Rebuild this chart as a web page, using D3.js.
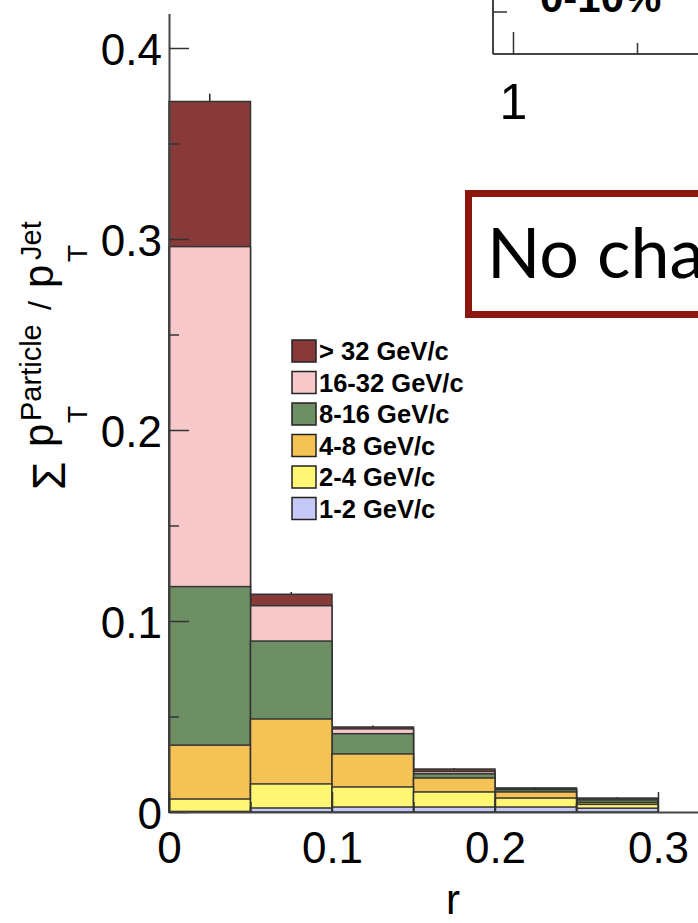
<!DOCTYPE html>
<html lang="en">
<head>
<meta charset="utf-8">
<script src="https://cdn.jsdelivr.net/npm/d3@7"></script>
<style>
    body { margin: 0; background: #fff; }
    svg { display: block; font-family: "Liberation Sans", Arial, sans-serif; }
</style>
</head>
<body>
<svg id="chart" width="698" height="923"></svg>
<script>
    // r bins of the histogram
    var binEdges = [0, 0.05, 0.1, 0.15, 0.2, 0.25, 0.3];
    // pT ranges, bottom of the stack first
    var ptBins = ["1-2 GeV/c", "2-4 GeV/c", "4-8 GeV/c", "8-16 GeV/c", "16-32 GeV/c", "> 32 GeV/c"];
    var pt1to2    = [0.0003, 0.0021, 0.0026, 0.0026, 0.0026, 0.0020];
    var pt2to4    = [0.0065, 0.0126, 0.0105, 0.0079, 0.0047, 0.0020];
    var pt4to8    = [0.0282, 0.0340, 0.0173, 0.0073, 0.0032, 0.0010];
    var pt8to16   = [0.0830, 0.0408, 0.0106, 0.0022, 0.0012, 0.0013];
    var pt16to32  = [0.1780, 0.0185, 0.0025, 0.0012, 0.0004, 0.0005];
    var ptAbove32 = [0.0760, 0.0060, 0.0010, 0.0013, 0.0005, 0.0005];
    var statErr   = [0.0040, 0.0012, 0.0008, 0.0006, 0.0004, 0.0004];
    var yTicks = [0, 0.1, 0.2, 0.3, 0.4];
    var yMinorTicks = [0.05, 0.15, 0.25, 0.35];
    var xTicks = [0, 0.1, 0.2, 0.3];
    var xMinorTicks = [0.05, 0.15, 0.25];

    var colors = ["#c6c8f6", "#fff673", "#f4c255", "#6e8f63", "#f6c8c9", "#873a38"];
    var outline = "#333";

    var svg = d3.select("#chart");
    svg.append("rect").attr("width", 698).attr("height", 923).attr("fill", "#fff");

    var x = d3.scaleLinear().domain([0, 0.35]).range([169, 169 + 0.35 * 1630]);
    var y = d3.scaleLinear().domain([0, 0.418]).range([812, 812 - 0.418 * 1910]);

    // build the table for d3.stack
    var series = [pt1to2, pt2to4, pt4to8, pt8to16, pt16to32, ptAbove32];
    var rows = binEdges.slice(0, -1).map(function (lo, i) {
        var row = {lo: lo, hi: binEdges[i + 1]};
        ptBins.forEach(function (k, j) { row[k] = series[j][i]; });
        return row;
    });
    var layers = d3.stack().keys(ptBins)(rows);

    // error bars (lower half hidden by the bars)
    var totals = layers[layers.length - 1];
    svg.append("g").selectAll("line")
        .data(totals)
        .enter().append("line")
        .attr("x1", function (d) { return x((d.data.lo + d.data.hi) / 2); })
        .attr("x2", function (d) { return x((d.data.lo + d.data.hi) / 2); })
        .attr("y1", function (d, i) { return y(d[1] - statErr[i]); })
        .attr("y2", function (d, i) { return y(d[1] + statErr[i]); })
        .attr("stroke", "#222")
        .attr("stroke-width", 1.5);

    // stacked histogram: each layer drawn from 0, largest first
    var bars = svg.append("g");
    layers.slice().reverse().forEach(function (layer) {
        bars.append("g")
            .selectAll("rect")
            .data(layer)
            .enter().append("rect")
            .attr("x", function (d) { return x(d.data.lo); })
            .attr("width", function (d) { return x(d.data.hi) - x(d.data.lo); })
            .attr("y", function (d) { return y(d[1]); })
            .attr("height", function (d) { return y(0) - y(d[1]); })
            .attr("fill", colors[layer.index])
            .attr("stroke", outline)
            .attr("stroke-width", 1.5);
    });

    // y axis
    var yAxis = svg.append("g").attr("transform", "translate(" + x(0) + ",0)");
    yAxis.call(d3.axisLeft(y).tickValues(yTicks).tickSizeInner(-20).tickSizeOuter(0)
        .tickPadding(7).tickFormat(function (d) { return d === 0 ? "0" : d3.format(".1f")(d); }));
    svg.append("g").attr("transform", "translate(" + x(0) + ",0)")
        .call(d3.axisLeft(y).tickValues(yMinorTicks).tickSizeInner(-10).tickSizeOuter(0).tickFormat(""))
        .select(".domain").remove();

    // x axis
    var xAxis = svg.append("g").attr("transform", "translate(0," + y(0) + ")");
    xAxis.call(d3.axisBottom(x).tickValues(xTicks).tickSizeInner(-20).tickSizeOuter(0)
        .tickPadding(20).tickFormat(function (d) { return d === 0 ? "0" : d3.format(".1f")(d); }));
    svg.append("g").attr("transform", "translate(0," + y(0) + ")")
        .call(d3.axisBottom(x).tickValues(xMinorTicks).tickSizeInner(-10).tickSizeOuter(0).tickFormat(""))
        .select(".domain").remove();

    svg.selectAll(".domain").attr("stroke", "#444").attr("stroke-width", 2);
    svg.selectAll(".tick line").attr("stroke", "#333").attr("stroke-width", 1.5);
    yAxis.selectAll("text").attr("font-size", 44).attr("fill", "#000").attr("dy", "0.38em")
        .style("font-family", "Liberation Sans, Arial, sans-serif");
    xAxis.selectAll("text").attr("font-size", 44).attr("fill", "#000")
        .style("font-family", "Liberation Sans, Arial, sans-serif");

    // axis titles
    svg.append("text").attr("x", 453).attr("y", 914).attr("text-anchor", "middle")
        .attr("font-size", 42).text("r");

    var yt = svg.append("g").attr("transform", "translate(53,490) rotate(-90)");
    yt.append("text").attr("x", 0).attr("y", 12).attr("font-size", 46).text("Σ");
    yt.append("text").attr("x", 43).attr("y", 0).attr("font-size", 42).text("p");
    yt.append("text").attr("x", 67).attr("y", 34).attr("font-size", 28).text("T");
    yt.append("text").attr("x", 69).attr("y", -12).attr("font-size", 29).text("Particle");
    yt.append("text").attr("x", 180).attr("y", -2).attr("font-size", 32).text("/");
    yt.append("text").attr("x", 202).attr("y", 0).attr("font-size", 42).text("p");
    yt.append("text").attr("x", 228).attr("y", 34).attr("font-size", 28).text("T");
    yt.append("text").attr("x", 230).attr("y", -12).attr("font-size", 29).text("Jet");

    // legend
    var legend = svg.append("g").attr("transform", "translate(292,351)");
    var items = legend.selectAll("g")
        .data(ptBins.slice().reverse())
        .enter().append("g")
        .attr("transform", function (d, i) { return "translate(0," + (i * 31.5) + ")"; });
    items.append("rect")
        .attr("x", 0).attr("y", -11).attr("width", 24).attr("height", 22)
        .attr("fill", function (d) { return colors[ptBins.indexOf(d)]; })
        .attr("stroke", "#222").attr("stroke-width", 1.5);
    items.append("text")
        .attr("x", 27).attr("y", 0).attr("dy", "0.36em")
        .attr("font-size", 25.5).attr("font-weight", "bold")
        .text(function (d) { return d; });

    // neighbouring panel, cut by the frame of the picture
    var xi = d3.scaleLog().domain([1, 2]).range([513, 637]);
    var inset = svg.append("g");
    inset.append("line").attr("x1", 493).attr("x2", 698).attr("y1", 54).attr("y2", 54)
        .attr("stroke", "#444").attr("stroke-width", 2);
    inset.append("line").attr("x1", 493).attr("x2", 493).attr("y1", 0).attr("y2", 54)
        .attr("stroke", "#444").attr("stroke-width", 2);
    inset.append("line").attr("x1", 493).attr("x2", 507).attr("y1", 12).attr("y2", 12)
        .attr("stroke", "#333").attr("stroke-width", 1.5);
    var insetAxis = inset.append("g").attr("transform", "translate(0,54)");
    insetAxis.call(d3.axisBottom(xi).tickValues([1]).tickSizeInner(-22).tickSizeOuter(0)
        .tickPadding(29).tickFormat(d3.format("d")));
    inset.append("g").attr("transform", "translate(0,54)")
        .call(d3.axisBottom(xi).tickValues([2]).tickSizeInner(-11).tickSizeOuter(0).tickFormat(""));
    inset.selectAll(".domain").remove();
    inset.selectAll(".tick line").attr("stroke", "#333").attr("stroke-width", 1.5);
    insetAxis.selectAll("text").attr("font-size", 50).attr("fill", "#000")
        .style("font-family", "Liberation Sans, Arial, sans-serif");
    inset.append("text").attr("x", 540).attr("y", 12).attr("font-size", 42)
        .attr("font-weight", "bold").text("0-10%");

    // annotation box
    svg.append("rect").attr("x", 468.5).attr("y", 193.5).attr("width", 260).attr("height", 121)
        .attr("fill", "#fff").attr("stroke", "#8c170c").attr("stroke-width", 7);
    svg.append("text").attr("x", 487).attr("y", 278).attr("font-size", 70)
        .style("font-family", "Lato, 'Open Sans', sans-serif").text("No cha");
</script>
</body>
</html>
